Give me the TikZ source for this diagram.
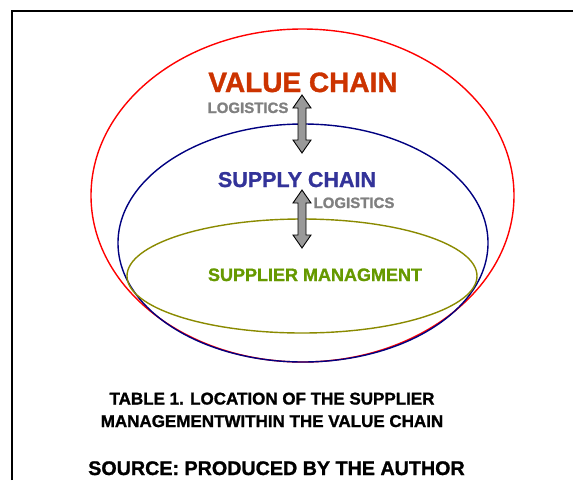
\documentclass[tikz,border=0pt]{standalone}
\usepackage{fontspec}
\setmainfont{Liberation Sans}[BoldFeatures={FakeBold=1.2}]
\begin{document}
\definecolor{valuecol}{HTML}{CC3300}
\definecolor{supplycol}{HTML}{333399}
\definecolor{suppliercol}{HTML}{669900}
\definecolor{logcol}{HTML}{808080}
\definecolor{olivering}{HTML}{8A8A00}
\definecolor{navyring}{HTML}{000080}
\begin{tikzpicture}[x=1pt,y=-1pt,
  ring/.style={line width=1.4pt},
  label/.style={inner sep=0pt,anchor=base,font=\bfseries},
  blockarrow/.style={draw=black,fill=gray!80!white,line width=0.9pt,line join=miter},
  frameline/.style={line width=2pt,black}]
\useasboundingbox (0,0) rectangle (573,480);
% frame
\draw[frameline] (12,480) -- (12,11) -- (573,11);
% nested chains
\draw[ring,red] (302.5,195.5) ellipse [x radius=211.5, y radius=166.5];
\draw[ring,navyring] (303,243) ellipse [x radius=185, y radius=119];
\draw[ring,olivering] (302,276) ellipse [x radius=175, y radius=57];
% labels
\node[label,text=valuecol,font=\bfseries\fontsize{28}{28}\selectfont] (vc) at (303,92) {VALUE CHAIN};
\node[label,text=logcol,font=\bfseries\fontsize{15}{15}\selectfont] (log1) at (248,113) {LOGISTICS};
\node[label,text=supplycol,font=\bfseries\fontsize{21.5}{21.5}\selectfont] (sc) at (297,187) {SUPPLY CHAIN};
\node[label,text=logcol,font=\bfseries\fontsize{15}{15}\selectfont] (log2) at (354,208) {LOGISTICS};
\node[label,text=suppliercol,font=\bfseries\fontsize{18}{18}\selectfont] (sm) at (315,281) {SUPPLIER MANAGMENT};
% two-way logistics arrows
\coordinate (a1) at (302,95);
\draw[blockarrow] (a1) -- ++(9,13) -- ++(-5,0) -- ++(0,32) -- ++(5,0) -- ++(-9,13) -- ++(-9,-13) -- ++(5,0) -- ++(0,-32) -- ++(-5,0) -- cycle;
\coordinate (a2) at (302,190);
\draw[blockarrow] (a2) -- ++(9,13) -- ++(-5,0) -- ++(0,32) -- ++(5,0) -- ++(-9,13) -- ++(-9,-13) -- ++(5,0) -- ++(0,-32) -- ++(-5,0) -- cycle;
% caption
\node[label,font=\bfseries\fontsize{17}{17}\selectfont] (cap1) at (272,404.5) {TABLE 1. LOCATION OF THE SUPPLIER};
\node[label,font=\bfseries\fontsize{17}{17}\selectfont] (cap2) at (272,427) {MANAGEMENTWITHIN THE VALUE CHAIN};
\node[label,font=\bfseries\fontsize{19.7}{19.7}\selectfont] (src) at (276.5,475) {SOURCE: PRODUCED BY THE AUTHOR};
\end{tikzpicture}
\end{document}
